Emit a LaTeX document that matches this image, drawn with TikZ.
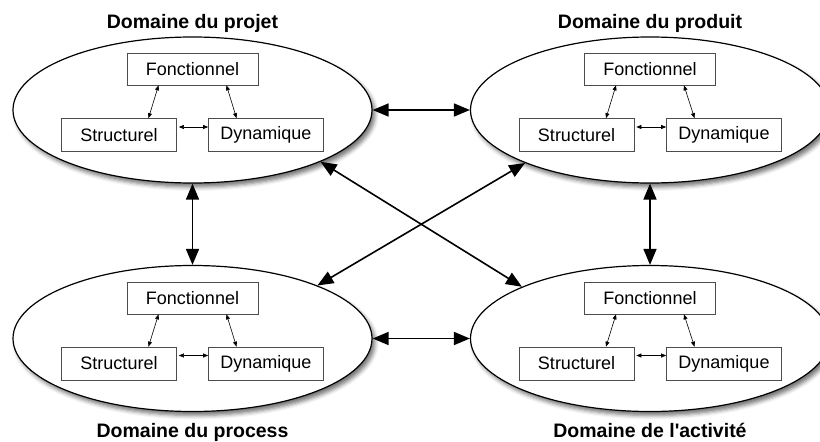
\documentclass[tikz,border=0pt]{standalone}
\usepackage{fontspec}
\setmainfont{Liberation Sans}
\usetikzlibrary{arrows.meta, shapes.geometric, shadows.blur}

\begin{document}
\begin{tikzpicture}[x=1pt, y=-1pt,
  domaine/.style={ellipse, draw, line width=1.2pt, fill=white, minimum width=359pt, minimum height=146pt, inner sep=0pt,
    blur shadow={shadow xshift=3pt, shadow yshift=-4pt, shadow blur radius=4pt, shadow opacity=55}},
  titre/.style={font=\fontsize{19.5}{23}\selectfont\bfseries, anchor=base},
  boite/.style={draw=black!70, line width=0.7pt, minimum height=33pt, minimum width=115pt, inner sep=0pt, font=\fontsize{18}{21}\selectfont},
  lien/.style={{Triangle[length=5pt,width=4pt]}-{Triangle[length=5pt,width=4pt]}, line width=0.6pt},
  fleche/.style={{Triangle[length=16pt,width=13pt]}-{Triangle[length=16pt,width=13pt]}, line width=1.6pt}]
  \useasboundingbox (0,0) rectangle (820,442);

  % Domaines
  \node[domaine] (projet) at (192.5,110) {};
  \node[domaine] (produit) at (650,110) {};
  \node[domaine] (process) at (192.5,338.5) {};
  \node[domaine] (activite) at (650,338.5) {};

  % Titres
  \node[titre] (tprojet) at (192.5,28) {Domaine du projet};
  \node[titre] (tproduit) at (650,28) {Domaine du produit};
  \node[titre] (tprocess) at (192.5,437) {Domaine du process};
  \node[titre] (tactivite) at (650,437) {Domaine de l\textquotesingle activité};

  % Domaine du projet
  \node[boite, minimum width=131pt, minimum height=32pt] (pf) at (192.5,69) {Fonctionnel};
  \node[boite] (ps) at (119,135) {Structurel};
  \node[boite] (pd) at (266,135) {Dynamique};
  \draw[lien] ([xshift=-34pt]pf.south) -- ([xshift=29.5pt]ps.north);
  \draw[lien] ([xshift=34pt]pf.south) -- ([xshift=-29.5pt]pd.north);
  \draw[lien, shorten <=2pt] ([yshift=8pt]ps.east) -- ([yshift=8pt]pd.west);

  % Domaine du produit
  \node[boite, minimum width=131pt, minimum height=32pt] (rf) at (650,69) {Fonctionnel};
  \node[boite] (rs) at (576.5,135) {Structurel};
  \node[boite] (rd) at (724,135) {Dynamique};
  \draw[lien] ([xshift=-34pt]rf.south) -- ([xshift=29.5pt]rs.north);
  \draw[lien] ([xshift=34pt]rf.south) -- ([xshift=-29.5pt]rd.north);
  \draw[lien, shorten <=2pt] ([yshift=8pt]rs.east) -- ([yshift=8pt]rd.west);

  % Domaine du process
  \node[boite, minimum width=131pt, minimum height=32pt] (cf) at (192.5,298) {Fonctionnel};
  \node[boite] (cs) at (119,363.5) {Structurel};
  \node[boite] (cd) at (266,363.5) {Dynamique};
  \draw[lien] ([xshift=-34pt]cf.south) -- ([xshift=29.5pt]cs.north);
  \draw[lien] ([xshift=34pt]cf.south) -- ([xshift=-29.5pt]cd.north);
  \draw[lien, shorten <=2pt] ([yshift=8pt]cs.east) -- ([yshift=8pt]cd.west);

  % Domaine de l'activite
  \node[boite, minimum width=131pt, minimum height=32pt] (af) at (650,298) {Fonctionnel};
  \node[boite] (as) at (576.5,363.5) {Structurel};
  \node[boite] (ad) at (724,363.5) {Dynamique};
  \draw[lien] ([xshift=-34pt]af.south) -- ([xshift=29.5pt]as.north);
  \draw[lien] ([xshift=34pt]af.south) -- ([xshift=-29.5pt]ad.north);
  \draw[lien, shorten <=2pt] ([yshift=8pt]as.east) -- ([yshift=8pt]ad.west);

  % Liens entre domaines
  \draw[fleche] (projet.east) -- (produit.west);
  \draw[fleche] (process.east) -- (activite.west);
  \draw[fleche] (projet.south) -- (process.north);
  \draw[fleche] (produit.south) -- (activite.north);
  \draw[fleche] (projet.-22) -- (activite.158);
  \draw[fleche] (produit.-157) -- (process.23);

\end{tikzpicture}
\end{document}
